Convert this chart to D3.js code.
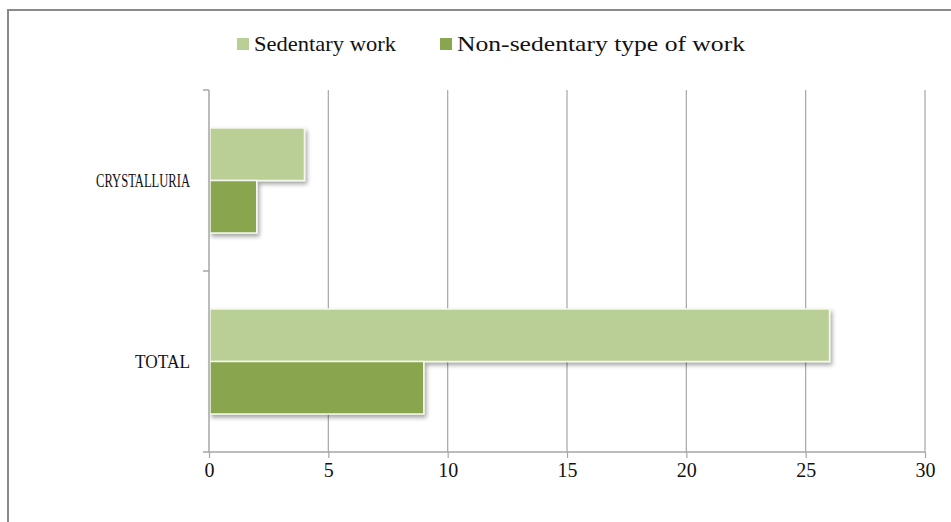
<!DOCTYPE html>
<html>
<head>
<meta charset="utf-8">
<script src="https://cdn.jsdelivr.net/npm/d3@7"></script>
<style>
  html, body { margin: 0; padding: 0; background: #fff; }
  svg { display: block; }
  text { font-family: "Liberation Serif", "DejaVu Serif", serif; fill: #111; }
</style>
</head>
<body>
<svg id="chart" width="951" height="522"></svg>
<script>
// Categories on the vertical axis (top to bottom)
const categories = ["CRYSTALLURIA", "TOTAL"];
// Series names and values
const seriesNames = ["Sedentary work", "Non-sedentary type of work"];
const sedentary = [4, 26];
const nonSedentary = [2, 9];
// Value axis ticks
const xTicks = [0, 5, 10, 15, 20, 25, 30];

const colors = ["#b9cf95", "#89a54e"];

const svg = d3.select("#chart");
const plot = { left: 209, right: 925, top: 90, bottom: 452 };

// Drop shadow for the bars
const defs = svg.append("defs");
const f = defs.append("filter").attr("id", "shadow")
  .attr("x", "-10%").attr("y", "-20%").attr("width", "130%").attr("height", "160%");
f.append("feDropShadow").attr("dx", 2).attr("dy", 3).attr("stdDeviation", 2)
  .attr("flood-color", "#000").attr("flood-opacity", 0.35);

// Chart frame
svg.append("rect").attr("x", 8).attr("y", 10).attr("width", 980).attr("height", 560)
  .attr("fill", "#fff").attr("stroke", "#8a8a8a").attr("stroke-width", 2);

const x = d3.scaleLinear().domain([0, 30]).range([plot.left, plot.right]);
const y = d3.scaleBand().domain(categories).range([plot.top, plot.bottom]).padding(0);
const ySeries = d3.scaleBand().domain(seriesNames)
  .range([y.bandwidth() * 0.21, y.bandwidth() * 0.79]).padding(0);

// Vertical gridlines
svg.append("g").selectAll("line").data(xTicks.slice(1)).join("line")
  .attr("x1", d => x(d)).attr("x2", d => x(d))
  .attr("y1", plot.top).attr("y2", plot.bottom)
  .attr("stroke", "#a6a6a6").attr("stroke-width", 1.2);

// Bars
const rows = categories.map((c, i) => ({ cat: c, vals: [sedentary[i], nonSedentary[i]] }));
const gBars = svg.append("g").attr("filter", "url(#shadow)");
rows.forEach(r => {
  r.vals.forEach((v, j) => {
    gBars.append("rect")
      .attr("x", x(0) + 1)
      .attr("y", y(r.cat) + ySeries(seriesNames[j]))
      .attr("width", x(v) - x(0) - 1)
      .attr("height", ySeries.bandwidth())
      .attr("fill", colors[j])
      .attr("stroke", "#f4f8ec").attr("stroke-width", 1.5);
  });
});

// Value axis (bottom)
const xAxis = d3.axisBottom(x).tickValues(xTicks).tickSize(6).tickPadding(5);
const gx = svg.append("g").attr("transform", `translate(0,${plot.bottom})`).call(xAxis);
gx.select(".domain").attr("d", `M${plot.left - 6},0H${plot.right}`)
  .attr("stroke", "#a6a6a6").attr("stroke-width", 1.5);
gx.selectAll(".tick line").attr("stroke", "#a6a6a6").attr("stroke-width", 1.2);
gx.selectAll(".tick text").attr("font-size", 20)
  .attr("font-family", "Liberation Serif, serif").attr("fill", "#111");

// Category axis (left)
const gy = svg.append("g");
gy.append("line").attr("x1", plot.left).attr("x2", plot.left)
  .attr("y1", plot.top).attr("y2", plot.bottom)
  .attr("stroke", "#a6a6a6").attr("stroke-width", 1.5);
const bounds = [plot.top, ...categories.map(c => y(c) + y.bandwidth())];
gy.selectAll("line.tk").data(bounds.slice(0, -1)).join("line").attr("class", "tk")
  .attr("x1", plot.left - 6).attr("x2", plot.left)
  .attr("y1", d => d).attr("y2", d => d)
  .attr("stroke", "#a6a6a6").attr("stroke-width", 1.5);
const labelWidths = { "CRYSTALLURIA": 94, "TOTAL": 55 };
gy.selectAll("text").data(categories).join("text")
  .attr("x", 190).attr("y", d => y(d) + y.bandwidth() / 2)
  .attr("dy", "0.35em").attr("text-anchor", "end")
  .attr("font-size", 19)
  .attr("textLength", d => labelWidths[d]).attr("lengthAdjust", "spacingAndGlyphs")
  .text(d => d);

// Legend
const legend = svg.append("g");
const legendItems = [
  { name: seriesNames[0], color: colors[0], sx: 237, tx: 254, len: 142 },
  { name: seriesNames[1], color: colors[1], sx: 440, tx: 457, len: 288 }
];
legendItems.forEach(it => {
  legend.append("rect").attr("x", it.sx).attr("y", 38).attr("width", 12).attr("height", 12)
    .attr("fill", it.color);
  legend.append("text").attr("x", it.tx).attr("y", 51).attr("font-size", 21)
    .attr("textLength", it.len).attr("lengthAdjust", "spacingAndGlyphs")
    .text(it.name);
});
</script>
</body>
</html>
